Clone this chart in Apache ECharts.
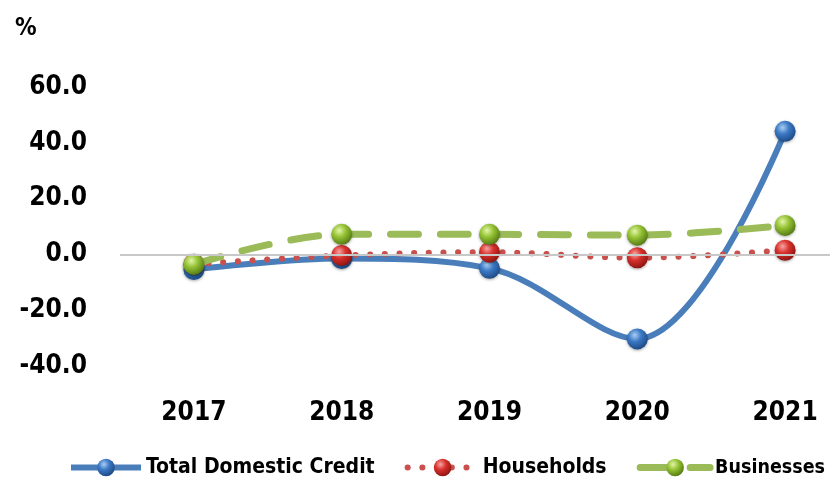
<!DOCTYPE html>
<html>
<head>
<meta charset="utf-8">
<script src="https://cdn.jsdelivr.net/npm/echarts@6/dist/echarts.min.js"></script>
<style>
  html, body { margin: 0; padding: 0; background: #fff; overflow: hidden; }
  /* plot area runs past the right edge, like the cropped original */
  #chart { width: 859px; height: 479px; }
</style>
</head>
<body>
<div id="chart"></div>
<script>
var years = ['2017', '2018', '2019', '2020', '2021'];
var totalCredit = [-5.4, -1.5, -5.0, -30.3, 44.1];
var households = [-3.5, -0.4, 0.8, -1.2, 1.5];
var businesses = [-3.6, 7.2, 7.2, 6.9, 10.4];

// shiny ball marker like excel
function ball(light, base, dark) {
  return {
    type: 'radial', x: 0.38, y: 0.32, r: 0.7,
    colorStops: [
      { offset: 0, color: light },
      { offset: 0.45, color: base },
      { offset: 1, color: dark }
    ]
  };
}

var chart = echarts.init(document.getElementById('chart'));
var font = '"DejaVu Sans Condensed", "DejaVu Sans", sans-serif';

var option = {
  animation: false,
  title: {
    text: '%', left: 10, top: 12,
    textStyle: { fontFamily: font, fontSize: 24, fontWeight: 'bold', color: '#000' }
  },
  legend: {
    top: 452, left: 63,
    itemWidth: 70, itemHeight: 22, itemGap: 30,
    textStyle: { fontFamily: font, fontSize: 21, fontWeight: 'bold', color: '#000' },
    data: [
      { name: 'Total Domestic Credit', lineStyle: { width: 6 } },
      { name: 'Households', lineStyle: { width: 6 } },
      { name: 'Businesses', lineStyle: { width: 7 }, textStyle: { fontSize: 19.5 } }
    ]
  },
  grid: { left: 120, right: 0, top: 87, bottom: 113 },
  xAxis: {
    type: 'category',
    data: years,
    boundaryGap: true,
    axisLine: { show: false },
    axisTick: { show: false },
    axisLabel: { margin: 34, fontFamily: font, fontSize: 26, fontWeight: 'bold', color: '#000' }
  },
  yAxis: {
    type: 'value', min: -40, max: 60, interval: 20,
    splitLine: { show: false },
    axisLine: { show: false },
    axisTick: { show: false },
    axisLabel: {
      margin: 33, fontFamily: font, fontSize: 26, fontWeight: 'bold', color: '#000',
      formatter: function (v) { return v.toFixed(1); }
    }
  },
  series: [
    {
      name: 'Total Domestic Credit', type: 'line', data: totalCredit,
      smooth: 0.35, symbol: 'circle', symbolSize: 21, z: 2,
      lineStyle: { color: '#4a7ebb', width: 6 },
      itemStyle: { color: ball('#a9cdf3', '#3b78c4', '#1d4a85'), shadowBlur: 3, shadowColor: 'rgba(0,0,0,0.35)', shadowOffsetY: 1 },
      markLine: {
        silent: true, symbol: 'none', label: { show: false },
        lineStyle: { color: '#c8c8c8', width: 2, type: 'solid' },
        data: [{ yAxis: 0 }]
      }
    },
    {
      name: 'Households', type: 'line', data: households,
      smooth: 0.35, symbol: 'circle', symbolSize: 21, z: 3,
      lineStyle: { color: '#c9504d', width: 6, type: [0.1, 14.6], cap: 'round' },
      itemStyle: { color: ball('#f7a4a2', '#d8302c', '#8c1512'), shadowBlur: 3, shadowColor: 'rgba(0,0,0,0.35)', shadowOffsetY: 1 }
    },
    {
      name: 'Businesses', type: 'line', data: businesses,
      smooth: 0.35, symbol: 'circle', symbolSize: 21, z: 4,
      lineStyle: { color: '#9bbb59', width: 7, type: [28, 22], cap: 'round' },
      itemStyle: { color: ball('#e3f5a8', '#94c234', '#557a14'), shadowBlur: 3, shadowColor: 'rgba(0,0,0,0.35)', shadowOffsetY: 1 }
    }
  ]
};

chart.setOption(option);
</script>
</body>
</html>
